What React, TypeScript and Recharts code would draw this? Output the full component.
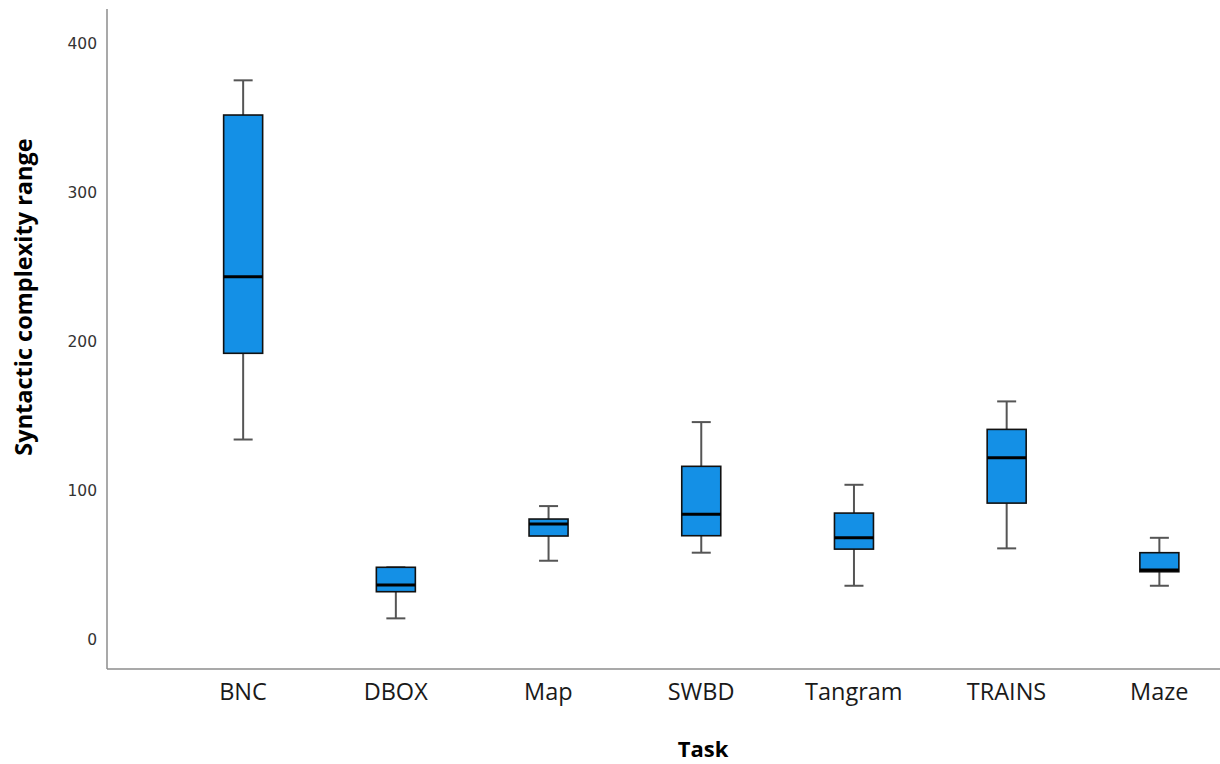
import React from "react";
import { ComposedChart, Bar, XAxis, YAxis } from "recharts";

const tasks = ["BNC", "DBOX", "Map", "SWBD", "Tangram", "TRAINS", "Maze"];
const whiskerLow = [134, 13.9, 52.6, 58, 35.8, 60.9, 35.8];
const q1Values = [191.9, 31.8, 69.2, 69.4, 60.4, 91.3, 45.2];
const medianValues = [243.3, 36.3, 77.2, 83.9, 68, 121.8, 46.3];
const q3Values = [351.9, 48.2, 80.6, 116, 84.6, 140.8, 58];
const whiskerHigh = [375.2, 48.2, 89.3, 145.7, 103.6, 159.6, 68];
const yTicks = [0, 100, 200, 300, 400];

const data = tasks.map((t, i) => ({
  idx: i,
  task: t,
  low: whiskerLow[i],
  q1: q1Values[i],
  med: medianValues[i],
  q3: q3Values[i],
  high: whiskerHigh[i],
  range: [whiskerLow[i], whiskerHigh[i]],
}));

const BoxShape = (props: any) => {
  const { x, y, width, height, payload } = props;
  const { low, q1, med, q3, high } = payload;
  const top = Math.min(y, y + height);
  const bottom = Math.max(y, y + height);
  const toY = (v: number) =>
    high === low ? top : top + ((high - v) / (high - low)) * (bottom - top);
  const cx = x + width / 2;
  const capHalf = 9.5;
  const yHigh = toY(high);
  const yLow = toY(low);
  const yQ3 = toY(q3);
  const yQ1 = toY(q1);
  const yMed = toY(med);
  const whiskerColor = "#555";
  return (
    <g>
      <line x1={cx} x2={cx} y1={yHigh} y2={yQ3} stroke={whiskerColor} strokeWidth={2} />
      <line x1={cx} x2={cx} y1={yQ1} y2={yLow} stroke={whiskerColor} strokeWidth={2} />
      <line x1={cx - capHalf} x2={cx + capHalf} y1={yHigh} y2={yHigh} stroke={whiskerColor} strokeWidth={2} />
      <line x1={cx - capHalf} x2={cx + capHalf} y1={yLow} y2={yLow} stroke={whiskerColor} strokeWidth={2} />
      <rect x={x} y={yQ3} width={width} height={yQ1 - yQ3} fill="#1490e6" stroke="#111" strokeWidth={1.6} />
      <line x1={x} x2={x + width} y1={yMed} y2={yMed} stroke="#000" strokeWidth={3} />
    </g>
  );
};

export default function App() {
  return (
    <div style={{ position: "absolute", left: 0, top: 0, background: "#fff" }}>
      <ComposedChart
        width={1220}
        height={764}
        data={data}
        margin={{ top: 9, right: 0, bottom: 0, left: 0 }}
      >
        <XAxis
          dataKey="idx"
          type="number"
          domain={[-0.8906, 6.398]}
          allowDataOverflow
          ticks={[0, 1, 2, 3, 4, 5, 6]}
          tickFormatter={(v: number) => tasks[v] ?? ""}
          height={95}
          tickLine={false}
          tickSize={0}
          tickMargin={14}
          axisLine={{ stroke: "#8c8c8c", strokeWidth: 1.5 }}
          tick={{ fill: "#1a1a1a", fontSize: 23.5, fontFamily: "Open Sans" }}
          interval={0}
        />
        <YAxis
          type="number"
          domain={[-20.1, 423.1]}
          allowDataOverflow
          ticks={yTicks}
          width={107}
          tickLine={false}
          tickSize={0}
          tickMargin={10}
          axisLine={{ stroke: "#8c8c8c", strokeWidth: 1.5 }}
          tick={{ fill: "#333", fontSize: 15.5, fontFamily: "DejaVu Sans" }}
        />
        <Bar
          dataKey="range"
          barSize={39}
          shape={BoxShape}
          isAnimationActive={false}
        />
        <text
          x={23}
          y={297}
          transform="rotate(-90 23 297)"
          textAnchor="middle"
          dominantBaseline="central"
          fontFamily="Open Sans"
          fontWeight="bold"
          fontSize={23.5}
          fill="#000"
        >
          Syntactic complexity range
        </text>
        <text
          x={703}
          y={757}
          textAnchor="middle"
          fontFamily="Open Sans"
          fontWeight="bold"
          fontSize={22}
          fill="#000"
        >
          Task
        </text>
      </ComposedChart>
    </div>
  );
}
